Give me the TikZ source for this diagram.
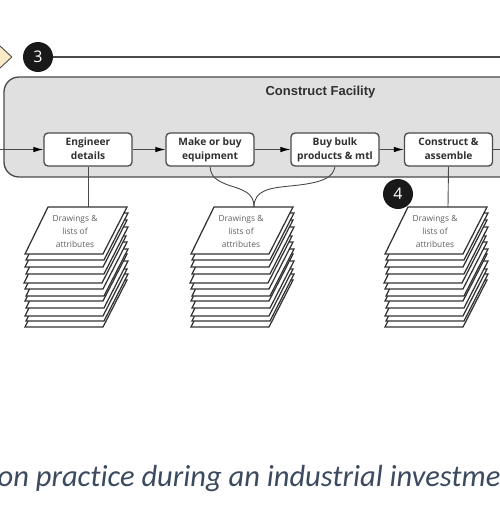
\documentclass[tikz,border=0pt]{standalone}
\usepackage{fontspec}
\setmainfont{Open Sans}
\newfontfamily\capfont[Ligatures=NoCommon]{Carlito}
\newfontfamily\headfont{Liberation Sans}
\usetikzlibrary{arrows.meta,shapes.geometric}
\definecolor{linegrey}{HTML}{4A4A4A}
\definecolor{panelgrey}{HTML}{E0E0E0}
\definecolor{txtgrey}{HTML}{303030}
\definecolor{captionblue}{HTML}{3B4A60}
\definecolor{cream}{HTML}{FDEBC8}
\tikzset{
 x=1pt,y=-1pt,
 procbox/.style={draw=linegrey,line width=1.3pt,fill=white,rounded corners=4pt,minimum width=88pt,minimum height=33pt,inner sep=0pt,font=\fontsize{10.2}{14.5}\selectfont\bfseries,text=txtgrey},
 flow/.style={draw=linegrey,line width=0.9pt,-{Latex[length=10pt,width=5.5pt,black]}},
 tie/.style={draw=linegrey,line width=0.9pt},
 badge/.style={circle,fill=black!90,minimum size=30pt,inner sep=0pt,text=white,font=\fontsize{16}{16}\selectfont},
 sheet/.style={draw=black!80,line width=1.25pt,fill=white,line join=miter},
 sheettext/.style={align=center,font=\fontsize{8.4}{13}\selectfont,text=black!62,inner sep=0pt},
}
\newcommand{\boxlines}[2]{\raisebox{1pt}{\begin{tabular}{@{}c@{}}#1\\#2\end{tabular}}}
\newcommand{\paperstack}[1]{%
 \begin{scope}[xshift=#1]
  \foreach \d/\j in {73/0,67/1,62/0,54/1,47/0,42/1,35/0,29/-1,20/1,13/0,6/1,0/0}{
    \draw[sheet] (25+\j,254+\d) -- (103+\j,254+\d) -- (127+\j,207+\d) -- (48+\j,207+\d) -- cycle;
  }
 \end{scope}}
\begin{document}
\begin{tikzpicture}
\useasboundingbox (0,0) rectangle (500,514);
\clip (0,0) rectangle (500,514);
\fill[white] (0,0) rectangle (500,514);
% top line
\coordinate (lineend) at (501,57);
\node[diamond,draw=black!70,fill=cream,line width=0.9pt,minimum width=30pt,minimum height=28pt,inner sep=0pt] (gate) at (-3,57) {};
\node[badge] (three) at (38,57) {3};
\draw[linegrey,line width=1.4pt] (three) -- (lineend);
% panel
\draw[draw=linegrey,line width=1.3pt,fill=panelgrey,rounded corners=15pt] (4,77) rectangle (520,177);
\node[font=\fontsize{13}{14}\selectfont\headfont\bfseries,text=txtgrey,inner sep=0pt] (title) at (320.5,92) {Construct Facility};
% stacks
\paperstack{0}
\paperstack{166}
\paperstack{360}
\coordinate (s1) at (88,207);
\coordinate (s2) at (254,207);
\coordinate (s3) at (448,207);
\node[sheettext] (t1) at (75,231.5) {Drawings \&\\lists of\\attributes};
\node[sheettext] (t2) at (241,231.5) {Drawings \&\\lists of\\attributes};
\node[sheettext] (t3) at (435,231.5) {Drawings \&\\lists of\\attributes};
% boxes
\node[procbox] (eng) at (88,149.5) {\boxlines{Engineer}{details}};
\node[procbox] (make) at (210,149.5) {\boxlines{Make or buy}{equipment}};
\node[procbox] (buy) at (335,149.5) {\boxlines{Buy bulk}{products \& mtl}};
\node[procbox] (con) at (448.5,149.5) {\boxlines{Construct \&}{assemble}};
\coordinate (instart) at (-1,149.5);
\coordinate (outend) at (501,149.5);
\draw[flow] (instart) -- (eng);
\draw[flow] (eng) -- (make);
\draw[flow] (make) -- (buy);
\draw[flow] (buy) -- (con);
\draw[tie] (con) -- (outend);
\draw[tie] (eng.south) -- (s1);
\draw[tie] (con.south) -- (s3);
\draw[tie] (make.south) .. controls (211,178) and (218,181) .. (228,185) .. controls (244,190) and (254,193) .. (s2);
\draw[tie] (buy.south) .. controls (333,178) and (322,183) .. (290,186) .. controls (270,188) and (254,190) .. (s2);
\node[badge] (four) at (398,194) {4};
\node[font=\fontsize{30.5}{33}\selectfont\capfont\itshape,text=captionblue,anchor=base west,inner sep=0pt] (cap) at (-2.5,486) {on practice during an industrial investment};
\end{tikzpicture}
\end{document}
